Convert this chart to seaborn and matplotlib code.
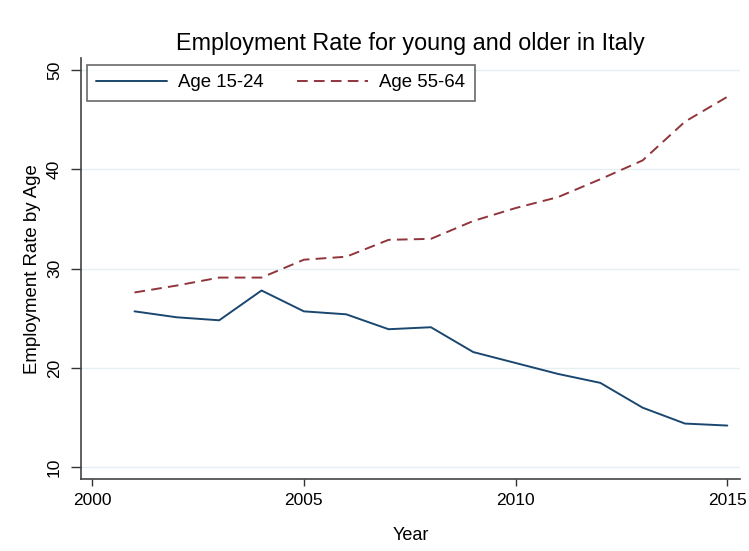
"""Employment rate for young and older workers in Italy, 2001-2015."""

import matplotlib

matplotlib.use("Agg")
import matplotlib.pyplot as plt
import pandas as pd
import seaborn as sns

YEARS = list(range(2001, 2016))
AGE_15_24 = [25.7, 25.1, 24.8, 27.8, 25.7, 25.4, 23.9, 24.1, 21.6, 20.5, 19.4, 18.5, 16.0, 14.4, 14.2]
AGE_55_64 = [27.6, 28.3, 29.1, 29.1, 30.9, 31.2, 32.9, 33.0, 34.8, 36.1, 37.2, 39.0, 40.9, 44.8, 47.3]
SERIES = ["Age 15-24", "Age 55-64"]
COLORS = ["#1a476f", "#90353b"]
X_TICKS = [2000, 2005, 2010, 2015]
Y_TICKS = [10, 20, 30, 40, 50]


def build_frame():
    rows = []
    for name, values in zip(SERIES, [AGE_15_24, AGE_55_64]):
        for year, value in zip(YEARS, values):
            rows.append({"Year": year, "Rate": value, "Group": name})
    return pd.DataFrame(rows)


def main():
    sns.set_theme(style="white")
    plt.rcParams["font.family"] = ["Liberation Sans", "DejaVu Sans"]
    plt.rcParams["text.color"] = "black"
    plt.rcParams["axes.labelcolor"] = "black"
    plt.rcParams["xtick.color"] = "black"
    plt.rcParams["ytick.color"] = "black"

    df = build_frame()
    fig = plt.figure(figsize=(7.49, 5.51), dpi=100)
    ax = fig.add_axes([0.1078, 0.1307, 0.8802, 0.7635])

    sns.lineplot(
        data=df,
        x="Year",
        y="Rate",
        hue="Group",
        style="Group",
        palette=COLORS,
        dashes=[(None, None), (5.5, 3.2)],
        linewidth=1.4,
        ax=ax,
    )

    ax.set_xlim(1999.73, 2015.3)
    ax.set_ylim(8.82, 51.18)
    ax.set_xticks(X_TICKS)
    ax.set_yticks(Y_TICKS)
    ax.set_yticklabels([str(v) for v in Y_TICKS], rotation=90, va="center")
    ax.yaxis.grid(True, color="#e6eff1", linewidth=1)
    ax.xaxis.grid(False)
    ax.tick_params(axis="both", which="major", width=1, color="#333333",
                   labelsize=12.5, direction="out", bottom=True, left=True)
    ax.tick_params(axis="y", length=7.5, pad=6)
    ax.tick_params(axis="x", length=5, pad=5)
    for side in ["top", "right"]:
        ax.spines[side].set_visible(False)
    for side in ["left", "bottom"]:
        ax.spines[side].set_color("#444444")
        ax.spines[side].set_linewidth(1.2)

    ax.set_xlabel("Year", fontsize=13, labelpad=14)
    ax.set_ylabel("Employment Rate by Age", fontsize=13.4, labelpad=4)
    ax.set_title("Employment Rate for young and older in Italy", fontsize=16.8, pad=6)

    handles, labels = ax.get_legend_handles_labels()
    legend = ax.legend(
        handles,
        labels,
        loc="upper left",
        bbox_to_anchor=(0.0096, 0.984),
        borderaxespad=0,
        ncol=2,
        fontsize=13.4,
        frameon=True,
        fancybox=False,
        edgecolor="#444444",
        handlelength=3.8,
        handletextpad=0.6,
        columnspacing=1.8,
        borderpad=0.5,
    )
    legend.get_frame().set_linewidth(1.2)

    fig.savefig("out.png", dpi=100)
    plt.close(fig)


if __name__ == "__main__":
    main()
